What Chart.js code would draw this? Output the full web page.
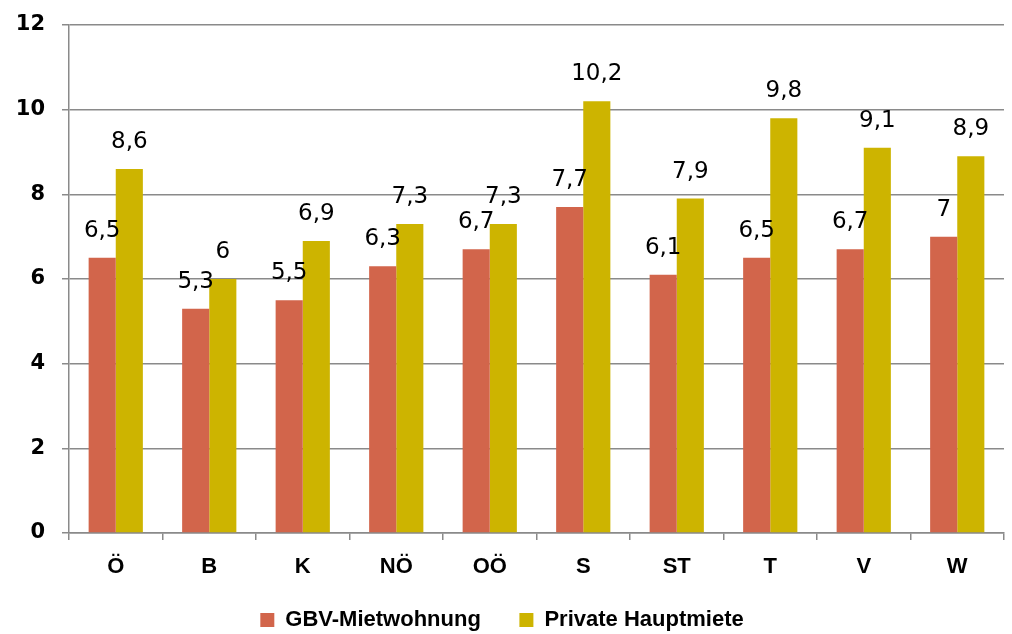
<!DOCTYPE html>
<html>
<head>
<meta charset="utf-8">
<script src="https://cdn.jsdelivr.net/npm/chart.js@4/dist/chart.umd.min.js"></script>
<style>
  html, body { margin: 0; padding: 0; background: #fff; }
  #wrap { width: 1012px; height: 634px; }
</style>
</head>
<body>
<div id="wrap"><canvas id="c" width="1012" height="634"></canvas></div>
<script>
// Bundesländer (Ö = Österreich gesamt)
const categories = ['Ö', 'B', 'K', 'NÖ', 'OÖ', 'S', 'ST', 'T', 'V', 'W'];
const gbvMiete = [6.5, 5.3, 5.5, 6.3, 6.7, 7.7, 6.1, 6.5, 6.7, 7.0];
const privatMiete = [8.6, 6.0, 6.9, 7.3, 7.3, 10.2, 7.9, 9.8, 9.1, 8.9];
const seriesNames = ['GBV-Mietwohnung', 'Private Hauptmiete'];
const yTicks = [0, 2, 4, 6, 8, 10, 12];

const TEXT_FONT = '"Liberation Sans", Arial, sans-serif';
const NUM_FONT = '"DejaVu Sans", Verdana, sans-serif';

// Writes each bar's value above it, German decimal comma
const valueLabels = {
  id: 'valueLabels',
  afterDatasetsDraw(chart) {
    const ctx = chart.ctx;
    ctx.save();
    ctx.font = '23px ' + NUM_FONT;
    ctx.fillStyle = '#000';
    ctx.textAlign = 'center';
    ctx.textBaseline = 'middle';
    chart.data.datasets.forEach((ds, i) => {
      chart.getDatasetMeta(i).data.forEach((bar, j) => {
        const txt = String(ds.data[j]).replace('.', ',');
        ctx.fillText(txt, bar.x, bar.y - 27);
      });
    });
    ctx.restore();
  }
};

new Chart(document.getElementById('c'), {
  type: 'bar',
  data: {
    labels: categories,
    datasets: [
      { label: seriesNames[0], data: gbvMiete, backgroundColor: '#D2654B',
        categoryPercentage: 0.58, barPercentage: 1.0 },
      { label: seriesNames[1], data: privatMiete, backgroundColor: '#CDB400',
        categoryPercentage: 0.58, barPercentage: 1.0 }
    ]
  },
  options: {
    responsive: false,
    animation: false,
    layout: { padding: { top: 0, right: 8, left: 0, bottom: 0 } },
    plugins: {
      tooltip: { enabled: false },
      legend: {
        position: 'bottom',
        maxHeight: 33,
        labels: {
          boxWidth: 14, boxHeight: 14, padding: 8,
          color: '#000',
          font: { family: TEXT_FONT, size: 22, weight: 'bold' },
          generateLabels(chart) {
            const items = Chart.defaults.plugins.legend.labels.generateLabels(chart);
            // wider gap after the first entry
            items.forEach((it, i) => { if (i < items.length - 1) it.text += '     '; });
            return items;
          }
        }
      }
    },
    scales: {
      x: {
        grid: { display: true, drawOnChartArea: false, drawTicks: true, tickLength: 7,
                color: '#8A8A8A', lineWidth: 1.5, offset: true },
        border: { display: true, color: '#8A8A8A', width: 1.5 },
        ticks: { color: '#000', padding: 14, font: { family: TEXT_FONT, size: 22, weight: 'bold' } },
        afterFit(s) { s.height = 68; }
      },
      y: {
        min: 0, max: 12,
        afterBuildTicks(s) { s.ticks = yTicks.map(v => ({ value: v })); },
        grid: { color: '#8A8A8A', lineWidth: 1.5, tickLength: 7, drawTicks: true },
        border: { display: true, color: '#8A8A8A', width: 1.5 },
        ticks: { color: '#000', padding: 17, font: { family: NUM_FONT, size: 21, weight: 'bold', lineHeight: 1 } },
        afterFit(s) { s.width = 69; s.paddingTop = 25; s.paddingBottom = 0; }
      }
    }
  },
  plugins: [valueLabels]
});
</script>
</body>
</html>
